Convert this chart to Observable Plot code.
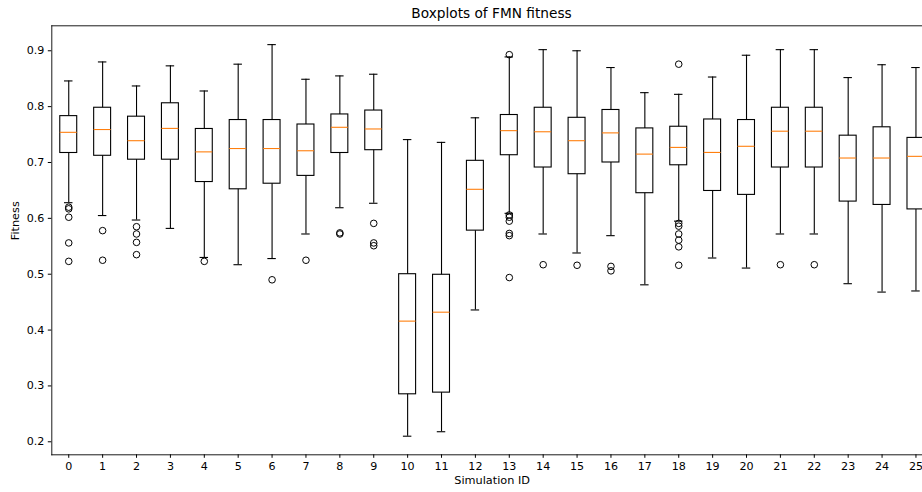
<!DOCTYPE html>
<html>
<head>
<meta charset="utf-8">
<script src="https://cdn.jsdelivr.net/npm/d3@7"></script>
<script src="https://cdn.jsdelivr.net/npm/@observablehq/plot@0.6"></script>
<style>
  html, body { margin: 0; padding: 0; background: white; overflow: hidden; width: 922px; height: 492px; }
  #title { font-family: "DejaVu Sans", sans-serif; font-size: 13.7px; color: black; height: 23px; line-height: 20px; padding-top: 3px; box-sizing: border-box; text-align: center; width: 932px; padding-left: 51px; white-space: nowrap; }
  #chart { width: 922px; overflow: hidden; }
</style>
</head>
<body>
<div id="title">Boxplots of FMN fitness</div>
<div id="chart"></div>
<script>
const ids = [0,1,2,3,4,5,6,7,8,9,10,11,12,13,14,15,16,17,18,19,20,21,22,23,24,25];
const whiskerLow = [0.628,0.605,0.597,0.582,0.530,0.517,0.528,0.572,0.619,0.627,0.210,0.218,0.436,0.609,0.572,0.538,0.569,0.481,0.595,0.529,0.511,0.572,0.572,0.483,0.468,0.470];
const q1 = [0.717,0.712,0.705,0.705,0.665,0.652,0.662,0.676,0.717,0.722,0.285,0.288,0.578,0.713,0.691,0.679,0.700,0.645,0.695,0.649,0.642,0.691,0.691,0.630,0.624,0.616];
const median = [0.754,0.759,0.739,0.761,0.719,0.725,0.725,0.721,0.763,0.760,0.416,0.432,0.652,0.757,0.755,0.739,0.753,0.715,0.727,0.718,0.729,0.756,0.756,0.708,0.708,0.711];
const q3 = [0.783,0.798,0.782,0.806,0.760,0.776,0.776,0.768,0.786,0.793,0.500,0.499,0.703,0.785,0.798,0.780,0.794,0.761,0.764,0.777,0.776,0.798,0.798,0.748,0.763,0.744];
const whiskerHigh = [0.846,0.880,0.837,0.873,0.828,0.876,0.911,0.849,0.855,0.858,0.741,0.736,0.780,0.889,0.902,0.900,0.870,0.825,0.822,0.853,0.892,0.902,0.902,0.852,0.875,0.870];
const outlierIds = [0,0,0,0,0, 1,1, 2,2,2,2, 4, 6, 7, 8,8, 9,9,9, 13,13,13,13,13,13,13, 14, 15, 16,16, 18,18,18,18,18,18,18, 21, 22];
const outlierValues = [0.620,0.617,0.602,0.556,0.523, 0.578,0.525, 0.585,0.572,0.557,0.535, 0.523, 0.490, 0.525, 0.574,0.572, 0.591,0.556,0.551, 0.893,0.606,0.602,0.595,0.573,0.569,0.494, 0.517, 0.516, 0.514,0.506, 0.876,0.591,0.586,0.572,0.561,0.549,0.516, 0.517, 0.517];
const yTicks = [0.2,0.3,0.4,0.5,0.6,0.7,0.8,0.9];

const boxes = ids.map((id, i) => ({id, lo: whiskerLow[i], q1: q1[i], med: median[i], q3: q3[i], hi: whiskerHigh[i]}));
const outliers = outlierIds.map((id, i) => ({id, v: outlierValues[i]}));

const boxHalf = 0.25, capHalf = 0.125;
const lw = 1.1;

const chart = Plot.plot({
  width: 922,
  height: 469,
  marginLeft: 51.3,
  marginRight: 0,
  marginTop: 2.3,
  marginBottom: 37.7,
  style: {fontFamily: "DejaVu Sans, sans-serif", fontSize: "11px", color: "black", background: "white"},
  x: {type: "linear", domain: [-0.5, 25.5], range: [51.3, 932.4]},
  y: {domain: [0.1767, 0.9447]},
  marks: [
    Plot.frame({anchor: "top", stroke: "black", strokeWidth: 0.9}),
    Plot.frame({anchor: "left", stroke: "black", strokeWidth: 0.9}),
    Plot.frame({anchor: "bottom", stroke: "black", strokeWidth: 0.9}),
    Plot.axisX({ticks: ids, tickFormat: d => String(d), tickSize: 3.5, tickPadding: 4, label: null, fontSize: 11.1}),
    Plot.axisY({ticks: yTicks, tickFormat: d => d.toFixed(1), tickSize: 3.5, tickPadding: 4, label: null, fontSize: 11.1}),
    Plot.ruleX(boxes, {x: "id", y1: "q3", y2: "hi", stroke: "black", strokeWidth: lw}),
    Plot.ruleX(boxes, {x: "id", y1: "lo", y2: "q1", stroke: "black", strokeWidth: lw}),
    Plot.ruleY(boxes, {y: "hi", x1: d => d.id - capHalf, x2: d => d.id + capHalf, stroke: "black", strokeWidth: lw}),
    Plot.ruleY(boxes, {y: "lo", x1: d => d.id - capHalf, x2: d => d.id + capHalf, stroke: "black", strokeWidth: lw}),
    Plot.rect(boxes, {x1: d => d.id - boxHalf, x2: d => d.id + boxHalf, y1: "q1", y2: "q3", fill: "none", stroke: "black", strokeWidth: lw}),
    Plot.ruleY(boxes, {y: "med", x1: d => d.id - boxHalf, x2: d => d.id + boxHalf, stroke: "#ff7f0e", strokeWidth: lw}),
    Plot.dot(outliers, {x: "id", y: "v", r: 3.3, fill: "none", stroke: "black", strokeWidth: 1}),
    Plot.text(["Simulation ID"], {frameAnchor: "bottom", dx: 5, dy: 29, fontSize: 11.3, fill: "black"}),
    Plot.text(["Fitness"], {frameAnchor: "left", rotate: -90, dx: -36.5, fontSize: 11.3, fill: "black"})
  ]
});
document.getElementById("chart").appendChild(chart);
</script>
</body>
</html>
